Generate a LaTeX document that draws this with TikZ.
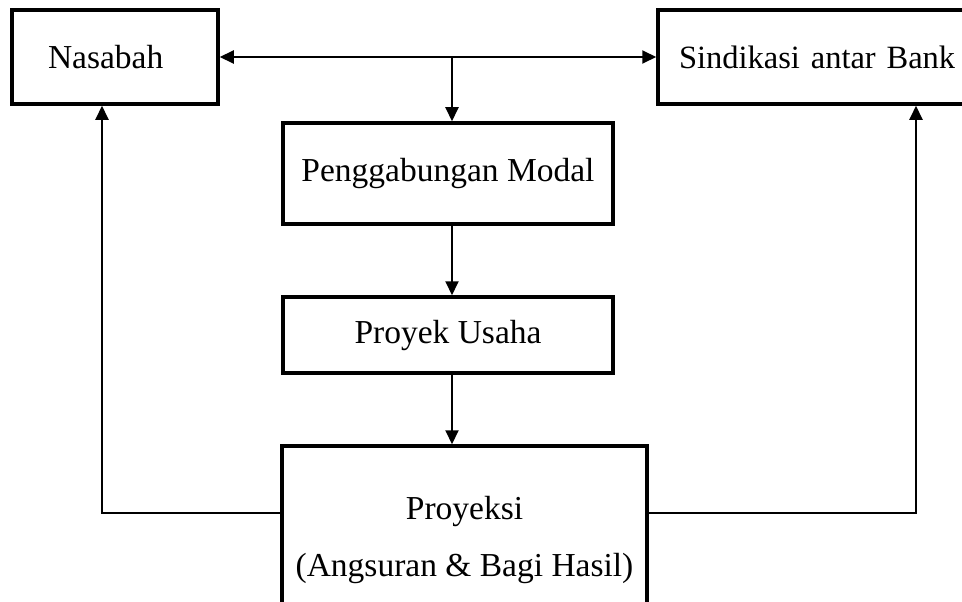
\documentclass[tikz,border=0pt]{standalone}
\usepackage{fontspec}
\setmainfont{Liberation Serif}
\usetikzlibrary{arrows.meta,positioning,calc}

\tikzset{
  kotak/.style={draw=black,line width=3.5pt,minimum width=330pt,inner sep=0pt,align=center,font=\fontsize{33.5}{57}\selectfont},
  panah/.style={line width=2pt,>={Triangle[length=14pt,width=13pt]}},
}

\begin{document}
\begin{tikzpicture}[x=1pt,y=-1pt]
%Ukuran dalam piksel dari gambar asli (sumbu y ke bawah)
  \pgfmathsetmacro{\xKiri}{102}
  \pgfmathsetmacro{\xTengah}{452}
  \pgfmathsetmacro{\xKanan}{916}
  \pgfmathsetmacro{\yAtas}{57}
  \pgfmathsetmacro{\yBawah}{513}
\path[use as bounding box,fill=white] (0,0) rectangle (962,602);
\clip (0,0) rectangle (962,602);
\node[kotak,minimum width=206pt,minimum height=94pt,text width=134pt,align=left] (nasabah) at (115,\yAtas) {Nasabah};
\node[kotak,minimum width=352pt,minimum height=94pt,text width=310pt,align=left,font=\fontsize{32.5}{57}\selectfont] (sindikasi) at (834,\yAtas) {Sindikasi antar Bank};
\node[kotak,minimum height=101pt] (modal) at (448,173.5) {Penggabungan Modal};
\node[kotak,minimum height=76pt] (usaha) at (448,335) {Proyek Usaha};
\node[kotak,minimum width=365pt,minimum height=188pt] (proyeksi) at (464.5,540) {Proyeksi\\(Angsuran \& Bagi Hasil)};
%Garis penghubung
\coordinate (cabang) at (\xTengah,\yAtas);
\coordinate (kiri) at (\xKiri,\yBawah);
\coordinate (kanan) at (\xKanan,\yBawah);
\draw[panah,<->] (nasabah.east) -- (sindikasi.west);
\draw[panah,->] (cabang) -- (cabang |- modal.north);
\draw[panah,->] (modal.south -| cabang) -- (usaha.north -| cabang);
\draw[panah,->] (usaha.south -| cabang) -- (proyeksi.north -| cabang);
\draw[panah,->] (kiri -| proyeksi.west) -| (nasabah.south -| kiri);
\draw[panah,->] (kanan -| proyeksi.east) -| (sindikasi.south -| kanan);
\end{tikzpicture}
\end{document}
